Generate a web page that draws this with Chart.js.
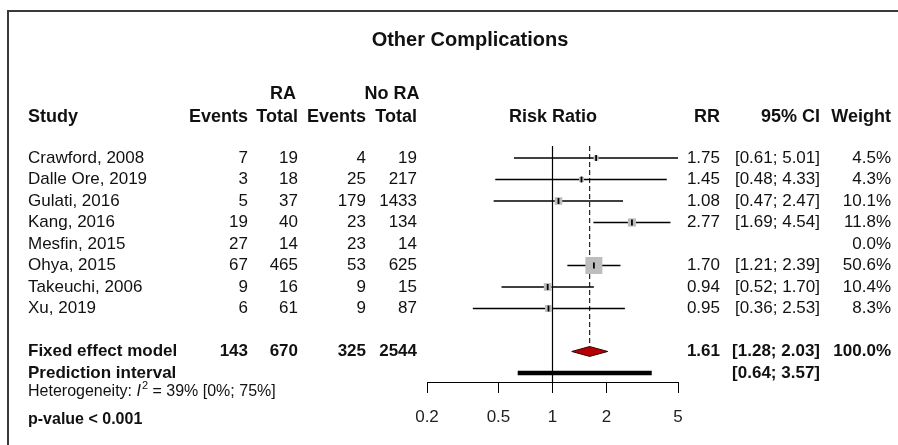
<!DOCTYPE html>
<html>
<head>
<meta charset="utf-8">
<script src="https://cdn.jsdelivr.net/npm/chart.js@4/dist/chart.umd.min.js"></script>
<style>
  html, body { margin: 0; padding: 0; background: #ffffff; }
  #wrap { width: 898px; height: 445px; position: relative; }
</style>
</head>
<body>
<div id="wrap"><canvas id="c"></canvas></div>
<script>
// ---- data ----
const studies = ['Crawford, 2008', 'Dalle Ore, 2019', 'Gulati, 2016', 'Kang, 2016', 'Mesfin, 2015', 'Ohya, 2015', 'Takeuchi, 2006', 'Xu, 2019'];
const raEvents = [7, 3, 5, 19, 27, 67, 9, 6];
const raTotal = [19, 18, 37, 40, 14, 465, 16, 61];
const noRaEvents = [4, 25, 179, 23, 23, 53, 9, 9];
const noRaTotal = [19, 217, 1433, 134, 14, 625, 15, 87];
const rr = [1.75, 1.45, 1.08, 2.77, null, 1.70, 0.94, 0.95];
const ciLow = [0.61, 0.48, 0.47, 1.69, null, 1.21, 0.52, 0.36];
const ciHigh = [5.01, 4.33, 2.47, 4.54, null, 2.39, 1.70, 2.53];
const weights = [4.5, 4.3, 10.1, 11.8, 0.0, 50.6, 10.4, 8.3];
const fixedTotals = [143, 670, 325, 2544];
const fixedRR = [1.61, 1.28, 2.03];   // estimate, lower, upper
const fixedWeight = 100.0;
const predInterval = [0.64, 3.57];
const xTicks = [0.2, 0.5, 1, 2, 5];
const xTickLabels = ['0.2', '0.5', '1', '2', '5'];
const heterogeneity = ['39%', '[0%; 75%]'];
const pValueText = 'p-value < 0.001';
const titleText = 'Other Complications';

// ---- row layout (in row units of the y scale) ----
const FIXED_ROW = 9;
const PRED_ROW = 10;
const Y_MIN = -0.558;
const Y_MAX = 10.42;

const datasets = [];

// estimate tick marks (topmost)
datasets.push({
  label: 'est',
  data: rr.map((v, i) => v == null ? null : { x: v, y: i }).filter(Boolean),
  pointStyle: 'line', rotation: 90, pointRadius: 3, borderColor: '#000', borderWidth: 1.8,
  backgroundColor: '#000', showLine: false
});

// diamond (fixed effect)
datasets.push({
  label: 'diamond',
  data: [
    { x: fixedRR[1], y: FIXED_ROW }, { x: fixedRR[0], y: FIXED_ROW - 0.23 },
    { x: fixedRR[2], y: FIXED_ROW }, { x: fixedRR[0], y: FIXED_ROW + 0.23 },
    { x: fixedRR[1], y: FIXED_ROW }
  ],
  showLine: true, fill: 'shape', backgroundColor: '#b40000', borderColor: '#400000',
  borderWidth: 1, pointRadius: 0, tension: 0
});

// weight boxes
const maxW = Math.max(...weights);
datasets.push({
  label: 'boxes',
  data: rr.map((v, i) => v == null ? null : { x: v, y: i }).filter(Boolean),
  pointStyle: 'rect',
  pointRadius: rr.map((v, i) => (17 * Math.sqrt(weights[i] / maxW)) / 1.414).filter((r, i) => rr[i] != null),
  backgroundColor: '#bdbdbd', borderWidth: 0, borderColor: 'rgba(0,0,0,0)', showLine: false
});

// CI lines
rr.forEach((v, i) => {
  if (v == null) return;
  datasets.push({
    label: 'ci' + i,
    data: [{ x: ciLow[i], y: i }, { x: ciHigh[i], y: i }],
    showLine: true, borderColor: '#000', borderWidth: 1.3, pointRadius: 0
  });
});

// prediction interval
datasets.push({
  label: 'pred',
  data: [{ x: predInterval[0], y: PRED_ROW }, { x: predInterval[1], y: PRED_ROW }],
  showLine: true, borderColor: '#000', borderWidth: 4.5, pointRadius: 0, borderCapStyle: 'butt'
});

// dashed line at fixed estimate
datasets.push({
  label: 'dash',
  data: [{ x: fixedRR[0], y: Y_MIN }, { x: fixedRR[0], y: FIXED_ROW - 0.23 }],
  showLine: true, borderColor: '#222', borderWidth: 1.2, borderDash: [5, 3], pointRadius: 0
});

// null effect line
datasets.push({
  label: 'zero',
  data: [{ x: 1, y: Y_MIN }, { x: 1, y: Y_MAX }],
  showLine: true, borderColor: '#000', borderWidth: 1.2, pointRadius: 0
});

const TXT = '#111';
const F = (w, s) => `${w} ${s}px "Liberation Sans", Arial, sans-serif`;

const textPlugin = {
  id: 'forestText',
  beforeDraw(chart) {
    const ctx = chart.ctx;
    ctx.save();
    ctx.fillStyle = '#fff';
    ctx.fillRect(0, 0, chart.width, chart.height);
    // frame
    ctx.strokeStyle = '#3a3a3a';
    ctx.lineWidth = 2;
    ctx.beginPath();
    ctx.moveTo(8, chart.height);
    ctx.lineTo(8, 11);
    ctx.lineTo(chart.width, 11);
    ctx.stroke();
    ctx.restore();
  },
  afterDraw(chart) {
    const ctx = chart.ctx;
    const ys = chart.scales.y;
    ctx.save();
    ctx.fillStyle = TXT;
    ctx.textBaseline = 'middle';

    const put = (t, x, y, align, font) => {
      ctx.font = font; ctx.textAlign = align; ctx.fillText(t, x, y);
    };

    // title
    put(titleText, 470, 40, 'center', F('bold', 20));

    // headers
    const hf = F('bold', 18);
    put('RA', 283, 94, 'center', hf);
    put('No RA', 392, 94, 'center', hf);
    put('Study', 28, 117, 'left', hf);
    put('Events', 248, 117, 'right', hf);
    put('Total', 298, 117, 'right', hf);
    put('Events', 366, 117, 'right', hf);
    put('Total', 417, 117, 'right', hf);
    put('Risk Ratio', 553, 117, 'center', hf);
    put('RR', 720, 117, 'right', hf);
    put('95% CI', 820, 117, 'right', hf);
    put('Weight', 891, 117, 'right', hf);

    // study rows
    const rf = F('normal', 17);
    studies.forEach((s, i) => {
      const y = ys.getPixelForValue(i);
      put(s, 28, y, 'left', rf);
      put(String(raEvents[i]), 248, y, 'right', rf);
      put(String(raTotal[i]), 298, y, 'right', rf);
      put(String(noRaEvents[i]), 366, y, 'right', rf);
      put(String(noRaTotal[i]), 417, y, 'right', rf);
      if (rr[i] != null) {
        put(rr[i].toFixed(2), 720, y, 'right', rf);
        put('[' + ciLow[i].toFixed(2) + '; ' + ciHigh[i].toFixed(2) + ']', 820, y, 'right', rf);
      }
      put(weights[i].toFixed(1) + '%', 891, y, 'right', rf);
    });

    // fixed effect row
    const bf = F('bold', 17);
    let y = ys.getPixelForValue(FIXED_ROW);
    put('Fixed effect model', 28, y, 'left', bf);
    put(String(fixedTotals[0]), 248, y, 'right', bf);
    put(String(fixedTotals[1]), 298, y, 'right', bf);
    put(String(fixedTotals[2]), 366, y, 'right', bf);
    put(String(fixedTotals[3]), 417, y, 'right', bf);
    put(fixedRR[0].toFixed(2), 720, y, 'right', bf);
    put('[' + fixedRR[1].toFixed(2) + '; ' + fixedRR[2].toFixed(2) + ']', 820, y, 'right', bf);
    put(fixedWeight.toFixed(1) + '%', 891, y, 'right', bf);

    // prediction row
    y = ys.getPixelForValue(PRED_ROW);
    put('Prediction interval', 28, y, 'left', bf);
    put('[' + predInterval[0].toFixed(2) + '; ' + predInterval[1].toFixed(2) + ']', 820, y, 'right', bf);

    // heterogeneity
    y = 392;
    let x = 28;
    ctx.textAlign = 'left';
    ctx.font = F('normal', 16);
    ctx.fillText('Heterogeneity: ', x, y); x += ctx.measureText('Heterogeneity: ').width;
    ctx.font = F('italic', 16);
    ctx.fillText('I', x, y); x += ctx.measureText('I').width + 1;
    ctx.font = F('normal', 11);
    ctx.fillText('2', x, y - 6); x += ctx.measureText('2').width;
    ctx.font = F('normal', 16);
    const rest = ' = ' + heterogeneity[0] + ' ' + heterogeneity[1];
    ctx.fillText(rest, x, y);

    // p-value
    put(pValueText, 28, 420, 'left', F('bold', 16));

    ctx.restore();
  }
};

new Chart(document.getElementById('c'), {
  type: 'scatter',
  data: { datasets },
  options: {
    responsive: true,
    maintainAspectRatio: false,
    animation: false,
    devicePixelRatio: 1,
    layout: { padding: { left: 427, right: 220, top: 146, bottom: 0 } },
    plugins: { legend: { display: false }, tooltip: { enabled: false } },
    elements: { line: { tension: 0 } },
    scales: {
      x: {
        type: 'logarithmic',
        min: xTicks[0],
        max: xTicks[xTicks.length - 1],
        afterBuildTicks: (s) => { s.ticks = xTicks.map(v => ({ value: v })); },
        afterFit: (s) => { s.height = 63; },
        ticks: {
          autoSkip: false, maxRotation: 0, minRotation: 0, padding: 14,
          color: '#222',
          font: { family: '"Liberation Sans", Arial, sans-serif', size: 17 },
          callback: (v, i) => xTickLabels[i]
        },
        grid: { display: true, drawOnChartArea: false, drawTicks: true, tickLength: 11, color: '#000', lineWidth: 1 },
        border: { display: true, color: '#000', width: 1 }
      },
      y: {
        type: 'linear',
        reverse: true,
        min: Y_MIN,
        max: Y_MAX,
        display: false
      }
    }
  },
  plugins: [textPlugin]
});
</script>
</body>
</html>
